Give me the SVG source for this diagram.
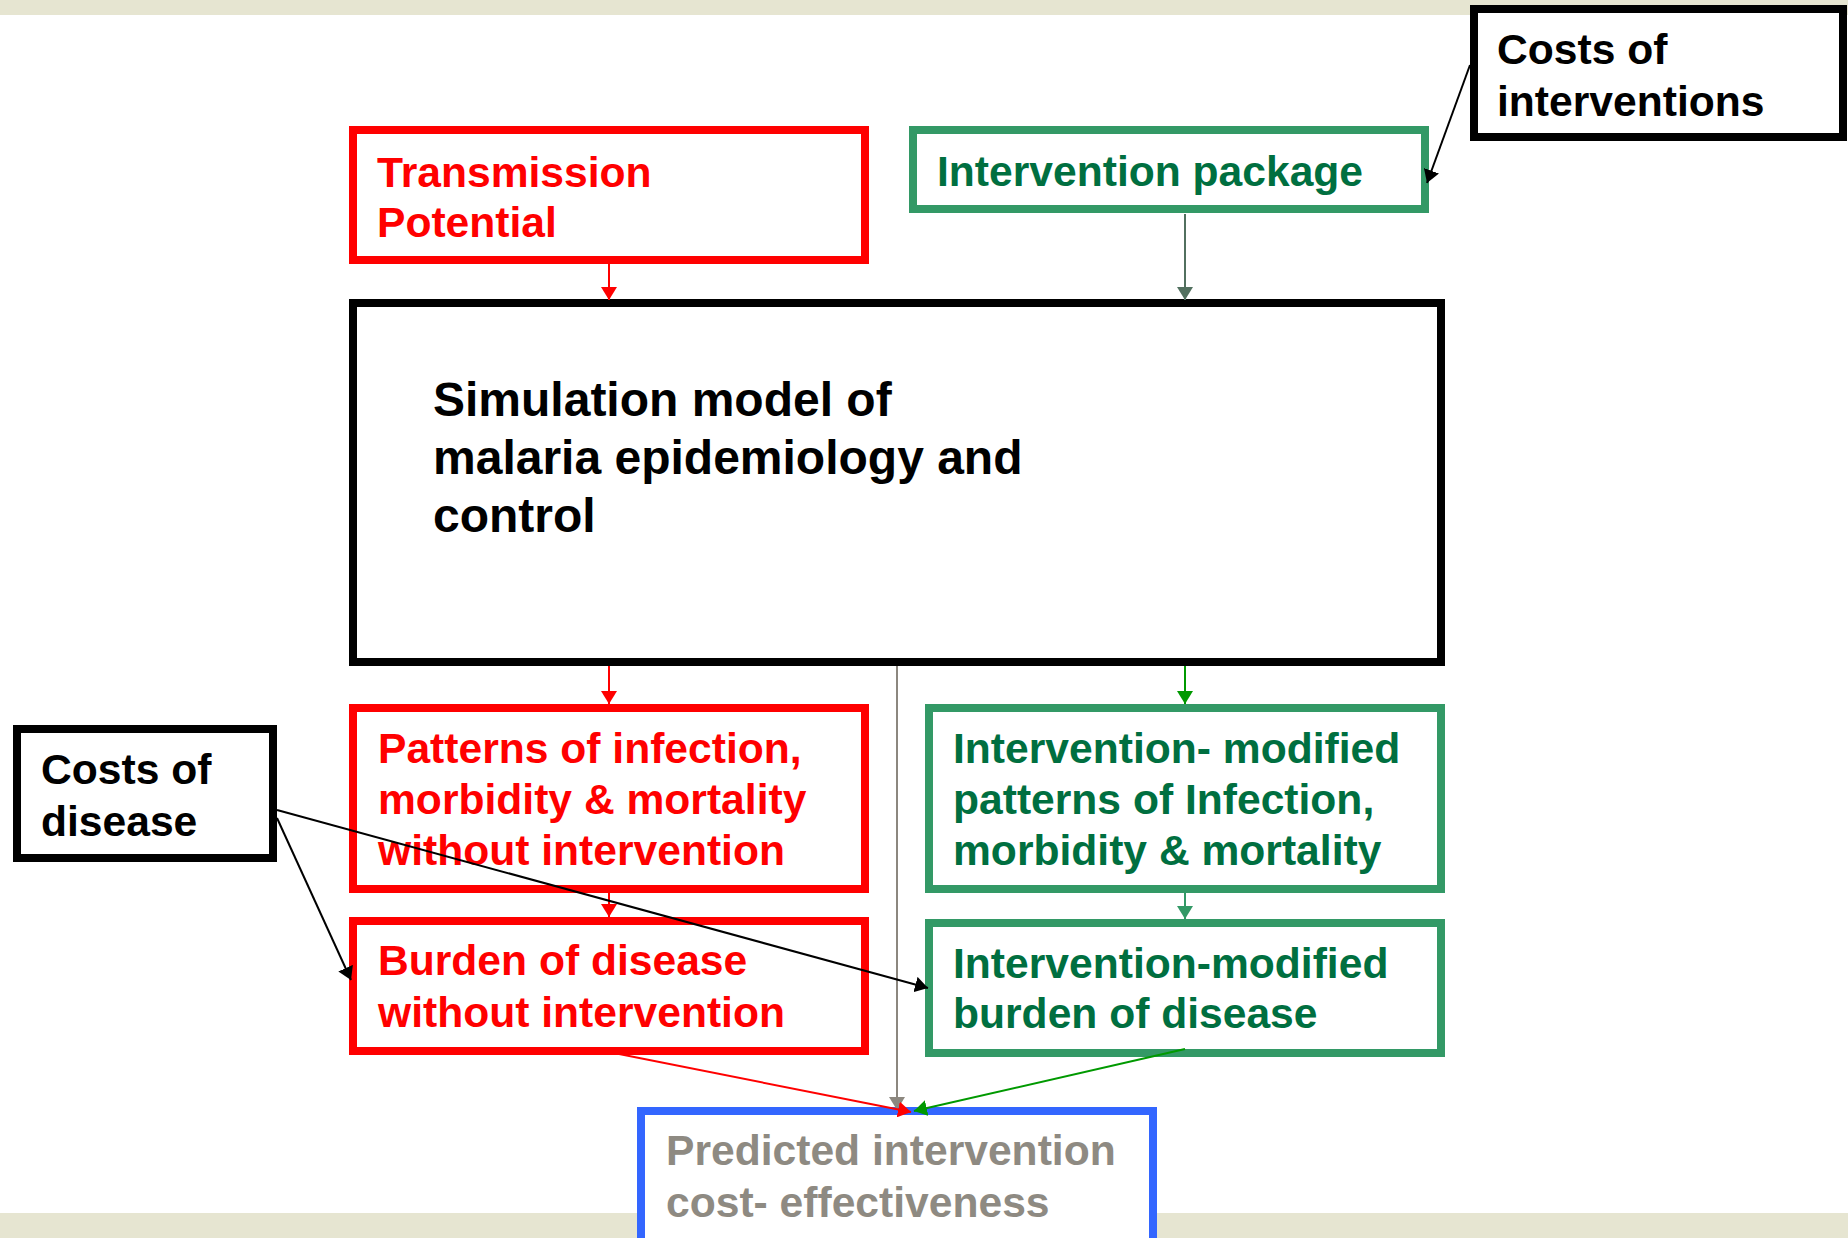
<svg xmlns="http://www.w3.org/2000/svg" width="1848" height="1238" viewBox="0 0 1848 1238">
<style>
text{font-family:"Liberation Sans",Arial,Helvetica,sans-serif;font-weight:bold;font-size:42.6px}
text.big{font-size:48px}
.box{fill:#fff;stroke-width:8}
.red{stroke:#FF0000}.grn{stroke:#339966}.blk{stroke:#000}.blu{stroke:#3366FF}
.tr{fill:#FF0000}.tg{fill:#006F40}.tk{fill:#000}.tgy{fill:#8E8A82}
.c{fill:none;stroke-width:2}
.band{fill:#E6E5D1}
</style>
<defs>
<marker id="aR" viewBox="0 0 13 16" markerWidth="13" markerHeight="16" markerUnits="userSpaceOnUse" refX="13" refY="8" orient="auto"><path d="M0,0L13,8L0,16z" fill="#FF0000"/></marker>
<marker id="aK" viewBox="0 0 13 16" markerWidth="13" markerHeight="16" markerUnits="userSpaceOnUse" refX="13" refY="8" orient="auto"><path d="M0,0L13,8L0,16z" fill="#000"/></marker>
<marker id="aG" viewBox="0 0 13 16" markerWidth="13" markerHeight="16" markerUnits="userSpaceOnUse" refX="13" refY="8" orient="auto"><path d="M0,0L13,8L0,16z" fill="#009900"/></marker>
<marker id="aL" viewBox="0 0 13 16" markerWidth="13" markerHeight="16" markerUnits="userSpaceOnUse" refX="13" refY="8" orient="auto"><path d="M0,0L13,8L0,16z" fill="#339966"/></marker>
<marker id="aS" viewBox="0 0 13 16" markerWidth="13" markerHeight="16" markerUnits="userSpaceOnUse" refX="13" refY="8" orient="auto"><path d="M0,0L13,8L0,16z" fill="#52705F"/></marker>
<marker id="aY" viewBox="0 0 13 16" markerWidth="13" markerHeight="16" markerUnits="userSpaceOnUse" refX="13" refY="8" orient="auto"><path d="M0,0L13,8L0,16z" fill="#8C877F"/></marker>
</defs>
<rect width="1848" height="1238" fill="#fff"/>
<rect class="band" x="0" y="0" width="1848" height="15"/>
<rect class="band" x="0" y="1213" width="1848" height="25"/>

<g id="costs-interventions">
<rect class="box blk" x="1474" y="9" width="369" height="128" stroke-width="8.5"/>
<text class="tk" x="1497" y="64">Costs of</text>
<text class="tk" x="1497" y="116">interventions</text>
</g>
<g id="transmission-potential">
<rect class="box red" x="353" y="130" width="512" height="130"/>
<text class="tr" x="377" y="187">Transmission</text>
<text class="tr" x="377" y="237">Potential</text>
</g>
<g id="intervention-package">
<rect class="box grn" x="913" y="130" width="512" height="79" stroke-width="7.5"/>
<text class="tg" x="937" y="186">Intervention package</text>
</g>
<g id="simulation-model">
<rect class="box blk" x="353" y="303" width="1088" height="359"/>
<text class="tk big" x="433" y="416">Simulation model of</text>
<text class="tk big" x="433" y="474">malaria epidemiology and</text>
<text class="tk big" x="433" y="532">control</text>
</g>
<g id="patterns-without">
<rect class="box red" x="353" y="708" width="512" height="181"/>
<text class="tr" x="378" y="763">Patterns of infection,</text>
<text class="tr" x="378" y="814">morbidity &amp; mortality</text>
<text class="tr" x="378" y="865">without intervention</text>
</g>
<g id="patterns-modified">
<rect class="box grn" x="929" y="708" width="512" height="181"/>
<text class="tg" x="953" y="763">Intervention- modified</text>
<text class="tg" x="953" y="814">patterns of Infection,</text>
<text class="tg" x="953" y="865">morbidity &amp; mortality</text>
</g>
<g id="burden-without">
<rect class="box red" x="353" y="921" width="512" height="130"/>
<text class="tr" x="378" y="975">Burden of disease</text>
<text class="tr" x="378" y="1027">without intervention</text>
</g>
<g id="burden-modified">
<rect class="box grn" x="929" y="923" width="512" height="130"/>
<text class="tg" x="953" y="978">Intervention-modified</text>
<text class="tg" x="953" y="1028">burden of disease</text>
</g>
<g id="costs-disease">
<rect class="box blk" x="17" y="729" width="256" height="129"/>
<text class="tk" x="41" y="784">Costs of</text>
<text class="tk" x="41" y="836">disease</text>
</g>
<g id="predicted-ce">
<rect class="box blu" x="641" y="1111" width="512" height="150"/>
<text class="tgy" x="666" y="1165">Predicted intervention</text>
<text class="tgy" x="666" y="1217">cost- effectiveness</text>
</g>

<g id="connectors">
<line class="c" x1="1470" y1="65" x2="1427" y2="183" stroke="#000" marker-end="url(#aK)"/>
<line class="c" x1="609" y1="264" x2="609" y2="300" stroke="#FF0000" marker-end="url(#aR)"/>
<line class="c" x1="1185" y1="214" x2="1185" y2="300" stroke="#52705F" marker-end="url(#aS)"/>
<line class="c" x1="609" y1="666" x2="609" y2="704" stroke="#FF0000" marker-end="url(#aR)"/>
<line class="c" x1="1185" y1="666" x2="1185" y2="704" stroke="#009900" marker-end="url(#aG)"/>
<line class="c" x1="609" y1="893" x2="609" y2="917" stroke="#FF0000" marker-end="url(#aR)"/>
<line class="c" x1="1185" y1="893" x2="1185" y2="919" stroke="#339966" marker-end="url(#aL)"/>
<line class="c" x1="897" y1="666" x2="897" y2="1110" stroke="#8C877F" marker-end="url(#aY)"/>
<line class="c" x1="609" y1="1052" x2="911" y2="1112" stroke="#FF0000" marker-end="url(#aR)"/>
<line class="c" x1="1185" y1="1049" x2="914" y2="1111" stroke="#009900" marker-end="url(#aG)"/>
<line class="c" x1="277" y1="810" x2="928" y2="988" stroke="#000" marker-end="url(#aK)"/>
<line class="c" x1="277" y1="818" x2="351" y2="980" stroke="#000" marker-end="url(#aK)"/>
</g>
</svg>
